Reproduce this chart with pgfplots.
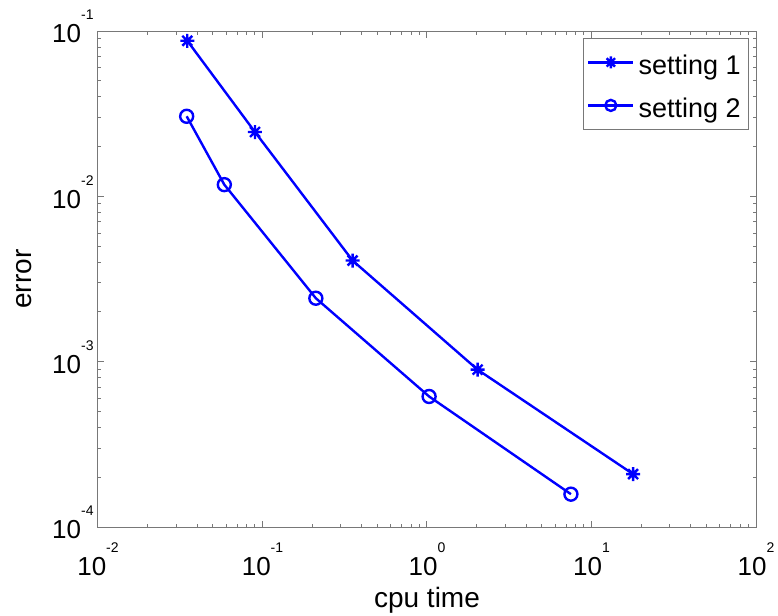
\documentclass[border=0pt]{standalone}
\usepackage{fontspec}
\setmainfont{Liberation Sans}
\usepackage{pgfplots}
\pgfplotsset{compat=1.18}

\definecolor{mblue}{RGB}{0,0,255}
\definecolor{axgray}{RGB}{120,120,120}

% MATLAB-style '*' marker: a plus and a cross on top of each other
\pgfdeclareplotmark{mstar}{%
  \pgfpathmoveto{\pgfqpoint{-\pgfplotmarksize}{0pt}}%
  \pgfpathlineto{\pgfqpoint{\pgfplotmarksize}{0pt}}%
  \pgfpathmoveto{\pgfqpoint{0pt}{-\pgfplotmarksize}}%
  \pgfpathlineto{\pgfqpoint{0pt}{\pgfplotmarksize}}%
  \pgfpathmoveto{\pgfqpoint{-.707\pgfplotmarksize}{-.707\pgfplotmarksize}}%
  \pgfpathlineto{\pgfqpoint{.707\pgfplotmarksize}{.707\pgfplotmarksize}}%
  \pgfpathmoveto{\pgfqpoint{-.707\pgfplotmarksize}{.707\pgfplotmarksize}}%
  \pgfpathlineto{\pgfqpoint{.707\pgfplotmarksize}{-.707\pgfplotmarksize}}%
  \pgfusepathqstroke}

\newcommand{\tl}[1]{10\raisebox{11.5pt}{\fontsize{7}{7}\selectfont #1}}

\begin{document}
\begin{tikzpicture}
\useasboundingbox (-49pt,-44.5pt) rectangle (340pt,263.5pt);
\begin{axis}[
  at={(0,0)}, anchor=south west,
  scale only axis, width=329pt, height=248pt,
  xmode=log, ymode=log,
  xmin=0.01, xmax=100, ymin=1e-4, ymax=1e-1,
  xtick={0.01,0.1,1,10,100},
  xticklabels={\tl{-2},\tl{-1},\tl{0},\tl{1},\tl{2}},
  ytick={1e-4,1e-3,1e-2,1e-1},
  yticklabels={\tl{-4},\tl{-3},\tl{-2},\tl{-1}},
  tick label style={font=\fontsize{13}{13}\selectfont, inner sep=0pt, black},
  xticklabel style={anchor=base, yshift=-24pt},
  yticklabel style={anchor=east, xshift=-2pt, yshift=2.25pt},
  axis line style={axgray, line width=0.5pt},
  every tick/.style={axgray, line width=0.5pt},
  major tick length=3.25pt, minor tick length=1.75pt,
  tick align=inside,
  label style={font=\fontsize{14}{14}\selectfont, inner sep=0pt},
  xlabel={cpu time},
  ylabel={error},
  xlabel style={at={(axis description cs:0.5,-0.1616)}, anchor=base},
  ylabel style={at={(axis description cs:-0.1003,0.5)}, anchor=base},
  legend style={at={(1,1)}, anchor=north east, xshift=-3.5pt, yshift=-3.5pt,
    draw=axgray, fill=white, font=\fontsize{13.5}{13.5}\selectfont,
    inner xsep=2pt, inner ysep=2.5pt, row sep=2.5pt,
    nodes={inner xsep=2pt, inner ysep=0pt, text height=15.5pt, text depth=3.5pt}},
  legend cell align=left,
  legend image code/.code={%
    \draw[mark repeat=2, mark phase=2, #1, every mark/.append style={scale=0.85}]
      plot coordinates {(0pt,0pt) (11.25pt,0pt) (22.5pt,0pt)};},
]
\addplot[mblue, line width=1.2pt, mark=mstar, mark size=3.5pt,
  mark options={solid}] coordinates {
  (0.0349,0.0873) (0.090,0.0245) (0.353,0.00409) (2.03,8.95e-4) (17.9,2.09e-4)};
\addplot[mblue, line width=1.2pt, mark=o, mark size=3.25pt,
  mark options={solid}] coordinates {
  (0.0346,0.0305) (0.0586,0.01177) (0.211,0.00242) (1.03,6.16e-4) (7.5,1.58e-4)};
\legend{setting 1, setting 2}
\end{axis}
\end{tikzpicture}
\end{document}
